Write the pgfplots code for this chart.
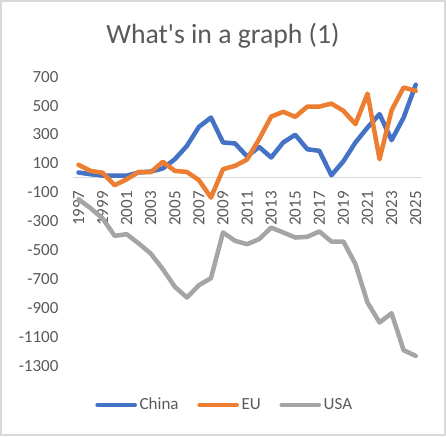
\documentclass[border=0pt]{standalone}
\usepackage{fontspec}
\setmainfont{Carlito}
\usepackage{pgfplots}
\pgfplotsset{compat=1.18}
\definecolor{cChina}{HTML}{4472C4}
\definecolor{cEU}{HTML}{ED7D31}
\definecolor{cUSA}{HTML}{A5A5A5}
\definecolor{ctext}{HTML}{595959}
\definecolor{cline}{HTML}{D9D9D9}
\begin{document}
\begin{tikzpicture}[x=0.75pt,y=0.75pt]
\useasboundingbox (0,0) rectangle (446,436);
\draw[cline, line width=1.1pt] (1,1) rectangle (445,435);
\node[anchor=base, text=ctext, font=\fontsize{20.8}{25}\selectfont] at (223,392.7) {What\textquotesingle s in a graph (1)};
\begin{axis}[
  at={(54.375pt,52.725pt)}, anchor=south west,
  scale only axis, width=261.9pt, height=216.75pt,
  xmin=1996.5, xmax=2025.5, ymin=-1300, ymax=700,
  axis x line*=middle, axis y line*=left,
  y axis line style={draw=none},
  x axis line style={draw=cline, line width=0.8pt},
  major tick length=0pt,
  xtick={1997,1999,...,2025},
  ytick={-1300,-1100,...,700},
  /pgf/number format/.cd, 1000 sep={}, assume math mode=true,
  /pgfplots/.cd,
  tick label style={text=ctext, font=\fontsize{12.75}{15}\selectfont},
  xticklabel style={rotate=90, anchor=east},
  xticklabel shift=6.5pt,
  yticklabel shift=7pt,
  clip=false,
  legend columns=3,
  legend style={at={(0.437,-0.136)}, anchor=center, draw=none, fill=none,
    text=ctext, font=\fontsize{12.75}{15}\selectfont,
    /tikz/every even column/.append style={column sep=12pt},
    inner sep=0pt},
  legend image code/.code={\draw[#1, line width=3.2pt, line cap=round] (0pt,0pt) -- (28pt,0pt);},
  every axis plot/.append style={line width=3.4pt, line join=round, line cap=round, mark=none},
]
\addplot[cChina] coordinates {
(1997,37) (1998,25) (1999,16) (2000,15) (2001,15) (2002,37) (2003,44) (2004,65)
(2005,129) (2006,221) (2007,353) (2008,417) (2009,245) (2010,238) (2011,148)
(2012,214) (2013,141) (2014,245) (2015,298) (2016,198) (2017,187) (2018,18)
(2019,115) (2020,245) (2021,348) (2022,441) (2023,261) (2024,417) (2025,644)};
\addlegendentry{China}
\addplot[cEU] coordinates {
(1997,90) (1998,48) (1999,35) (2000,-51) (2001,-10) (2002,41) (2003,39) (2004,111)
(2005,48) (2006,41) (2007,-16) (2008,-136) (2009,60) (2010,83) (2011,127)
(2012,268) (2013,424) (2014,457) (2015,422) (2016,493) (2017,493) (2018,514)
(2019,464) (2020,372) (2021,583) (2022,129) (2023,468) (2024,625) (2025,602)};
\addlegendentry{EU}
\addplot[cUSA] coordinates {
(1997,-148) (1998,-210) (1999,-281) (2000,-401) (2001,-390) (2002,-454) (2003,-524)
(2004,-632) (2005,-754) (2006,-828) (2007,-743) (2008,-694) (2009,-378) (2010,-436)
(2011,-459) (2012,-424) (2013,-344) (2014,-378) (2015,-413) (2016,-408) (2017,-371)
(2018,-441) (2019,-441) (2020,-597) (2021,-863) (2022,-1001) (2023,-937)
(2024,-1193) (2025,-1232)};
\addlegendentry{USA}
\end{axis}
\end{tikzpicture}
\end{document}
